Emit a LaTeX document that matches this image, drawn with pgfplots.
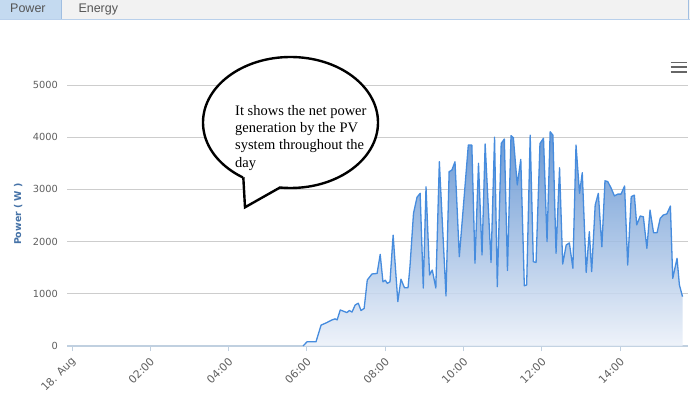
\documentclass[border=0pt]{standalone}
\usepackage{fontspec}
\usepackage{pgfplots}
\usepackage{pgfplotstable}
\pgfplotsset{compat=1.18}
\setmainfont{DejaVu Sans}
\newfontfamily\tabfont{Liberation Sans}
\newfontfamily\callfont{Liberation Serif}
\definecolor{linecol}{RGB}{70,140,222}
\definecolor{topcol}{RGB}{80,135,205}
\definecolor{botcol}{RGB}{236,241,249}
\definecolor{gridcol}{RGB}{205,205,205}
\definecolor{xaxcol}{RGB}{192,208,224}
\definecolor{labcol}{RGB}{96,96,96}
\definecolor{titlecol}{RGB}{69,114,167}
\definecolor{tabbg}{RGB}{242,242,242}
\definecolor{tabsel}{RGB}{196,218,240}
\definecolor{tabline}{RGB}{185,208,235}
\definecolor{tabborder}{RGB}{160,190,225}
\definecolor{tabtext}{RGB}{85,85,85}
\definecolor{menucol}{RGB}{102,102,102}
\pgfplotstableread{
h v
5.90 0
5.95 40
6.00 80
6.23 80
6.36 400
6.51 450
6.64 500
6.72 520
6.77 500
6.85 690
6.92 670
7.02 640
7.08 680
7.15 650
7.23 785
7.31 820
7.38 680
7.46 720
7.54 1265
7.66 1380
7.79 1390
7.87 1755
7.94 1230
8.00 1260
8.05 1200
8.12 1230
8.20 2125
8.32 850
8.40 1280
8.49 1115
8.58 1115
8.63 1520
8.72 2540
8.81 2850
8.89 2925
8.97 1110
9.04 3050
9.13 1360
9.20 1455
9.29 1110
9.38 3530
9.55 960
9.63 3340
9.70 3370
9.78 3530
9.89 1710
10.00 2730
10.12 3850
10.21 3850
10.29 1585
10.38 3500
10.47 1745
10.55 3870
10.70 1600
10.79 4000
10.86 1135
10.96 3880
11.04 3965
11.12 1445
11.21 4030
11.27 3990
11.37 3085
11.46 3575
11.55 1155
11.61 1170
11.70 4040
11.78 1615
11.85 1600
11.95 3880
12.04 3980
12.13 2000
12.21 4105
12.28 4040
12.36 1775
12.45 3415
12.53 1570
12.62 1935
12.70 1975
12.79 1490
12.87 3850
12.96 2925
13.03 3320
13.13 1410
13.21 2190
13.27 1425
13.36 2700
13.44 2925
13.53 1900
13.61 3165
13.68 3150
13.77 3020
13.85 2875
13.94 2910
14.02 2910
14.11 3065
14.19 1550
14.28 2860
14.36 2890
14.42 2320
14.51 2490
14.59 2475
14.68 1870
14.76 2605
14.85 2170
14.94 2170
15.02 2445
15.10 2510
15.19 2530
15.28 2680
15.34 1295
15.45 1680
15.51 1170
15.59 945
}\powerdata
\begin{document}
\begin{tikzpicture}[x=1pt,y=1pt]
\useasboundingbox (0,0) rectangle (690,399);
\fill[white] (0,0) rectangle (690,399);
% tab bar
\fill[tabbg] (0,380) rectangle (690,399);
\fill[tabsel] (0,380) rectangle (61,399);
\draw[tabborder, line width=1pt] (61,380) -- (61,399);
\draw[tabborder, line width=0.8pt] (688.5,380) -- (688.5,399);
\draw[tabline, line width=1.6pt] (0,379.4) -- (690,379.4);
\node[anchor=base west, inner sep=0pt, font=\tabfont\fontsize{12.5}{14}\selectfont, text=tabtext] at (10,386.3) {Power};
\node[anchor=base west, inner sep=0pt, font=\tabfont\fontsize{12.5}{14}\selectfont, text=tabtext] at (78.3,386.3) {Energy};
% menu icon
\foreach \yy in {336.5,331.7,327} \draw[menucol, line width=1.8pt] (670.5,\yy) -- (686.5,\yy);
\begin{axis}[
  at={(67pt,53pt)}, anchor=south west,
  width=621pt, height=261pt, scale only axis,
  xmin=-0.128, xmax=15.73, ymin=0, ymax=5000,
  axis x line*=bottom, axis y line*=left,
  x axis line style={draw=xaxcol, line width=1.6pt, -},
  y axis line style={draw=none},
  xtick={0,2,...,14},
  xticklabels={18. Aug,02:00,04:00,06:00,08:00,10:00,12:00,14:00},
  ytick={0,1000,...,5000},
  yticklabels={0,1000,2000,3000,4000,5000},
  tick align=outside, major tick length=5pt,
  xtick style={draw=xaxcol, line width=1pt},
  ytick style={draw=none},
  ymajorgrids, major grid style={draw=gridcol, line width=1pt},
  xticklabel style={rotate=45, anchor=east, inner sep=0pt, xshift=-4.5pt, yshift=-7.5pt,
    font=\fontsize{10.8}{12}\selectfont, text=labcol},
  yticklabel style={anchor=east, inner sep=0pt, xshift=-4pt,
    font=\fontsize{9.8}{11}\selectfont, text=labcol},
  clip=false,
]
\addplot[draw=none, fill opacity=0.85, top color=topcol, bottom color=botcol] table[x=h,y=v] {\powerdata} \closedcycle;
\addplot[linecol, line width=1.3pt, line join=round] table[x=h,y=v] {\powerdata};
\end{axis}
% y title
\node[rotate=90, inner sep=0pt, font=\bfseries\fontsize{9.4}{11}\selectfont, text=titlecol] at (18.3,185) {Power ( W )};
% callout
\draw[black, line width=2.4pt, fill=white] (290.5,276.5) ellipse [x radius=87.5, y radius=65.5];
\fill[white] (243.3,223.5) -- (245,191.7) -- (280,211.5) -- (266,232) -- cycle;
\draw[black, line width=2.4pt, line join=miter] (243.3,221.7) -- (245,191.7) -- (280,211.5);
\begin{scope}[every node/.style={anchor=base west, inner sep=0pt, font=\callfont\fontsize{14.5}{17.5}\selectfont}]
\node at (235,283.7) {It shows the net power};
\node at (235,266.4) {generation by the PV};
\node at (235,249.1) {system throughout the};
\node at (235,231.8) {day};
\end{scope}
\end{tikzpicture}
\end{document}
